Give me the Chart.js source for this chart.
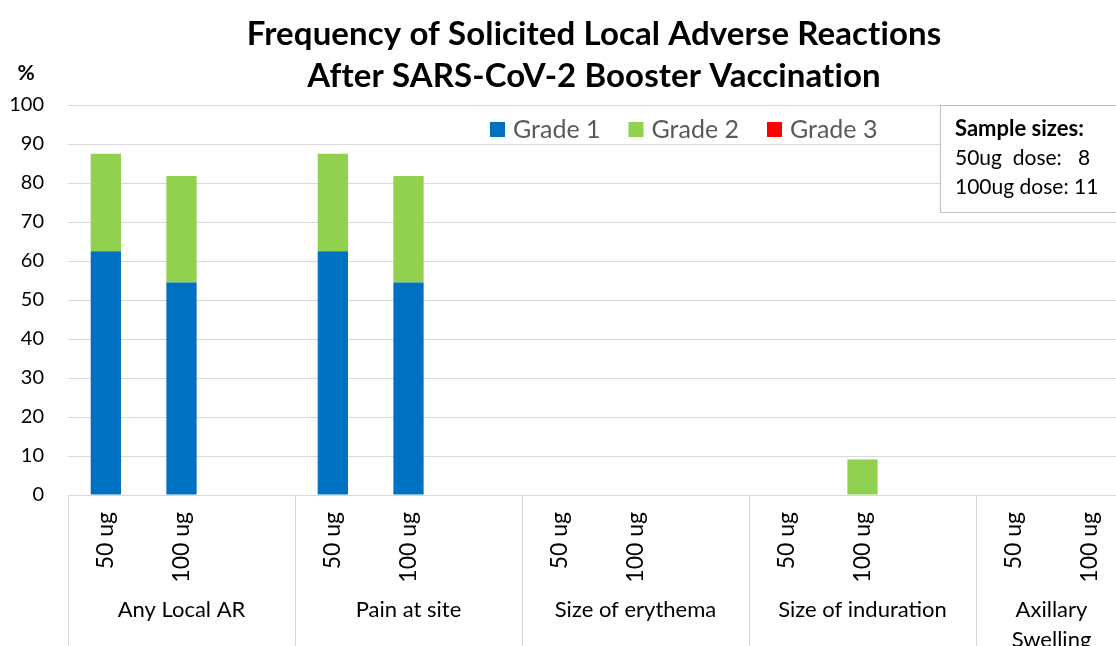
<!DOCTYPE html>
<html>
<head>
<meta charset="utf-8">
<script src="https://cdn.jsdelivr.net/npm/chart.js@4.4.1/dist/chart.umd.min.js"></script>
<style>
  html, body { margin: 0; padding: 0; background: #fff; overflow: hidden; }
  #wrap { width: 1116px; height: 646px; overflow: hidden; position: relative; }
  canvas { display: block; }
</style>
</head>
<body>
<div id="wrap"><canvas id="chart" width="1210" height="646"></canvas></div>
<script>
// Reactions (outer category level) and dose groups (inner level)
const reactions = ['Any Local AR', 'Pain at site', 'Size of erythema', 'Size of induration', 'Axillary Swelling'];
const doses = ['50 ug', '100 ug'];

// Percent of participants per reaction x dose (50 ug, 100 ug for each reaction)
const grade1 = [62.5, 54.5, 62.5, 54.5, 0, 0, 0, 0, 0, 0];
const grade2 = [25.0, 27.3, 25.0, 27.3, 0, 0, 0, 9.1, 0, 0];
const grade3 = [0, 0, 0, 0, 0, 0, 0, 0, 0, 0];

const seriesNames = ['Grade 1', 'Grade 2', 'Grade 3'];
const seriesColors = ['#0070C0', '#92D050', '#FF0000'];

const yTickValues = [0, 10, 20, 30, 40, 50, 60, 70, 80, 90, 100];

const titleLines = ['Frequency of Solicited Local Adverse Reactions', 'After SARS-CoV-2 Booster Vaccination'];
const sampleTitle = 'Sample sizes:';
const sampleLines = ['50ug  dose:   8', '100ug dose: 11'];

// Each reaction gets its dose slots followed by one empty spacer slot
const slotsPerGroup = doses.length + 1;
const slotLabels = [];
reactions.forEach(() => { doses.forEach(d => slotLabels.push(d)); slotLabels.push(''); });
function toSlots(values) {
  const out = [];
  reactions.forEach((r, i) => {
    doses.forEach((d, j) => out.push(values[i * doses.length + j]));
    out.push(null);
  });
  return out;
}

const FONT = 'Lato, "Open Sans", sans-serif';
const GRID = '#d9d9d9';

const decorations = {
  id: 'decorations',
  afterDraw(chart) {
    const ctx = chart.ctx;
    const xs = chart.scales.x;
    const area = chart.chartArea;
    const slotW = (xs.getPixelForValue(1) - xs.getPixelForValue(0));
    ctx.save();

    // Title (tiny letter spacing keeps "ti" from joining into a ligature)
    ctx.fillStyle = '#000';
    ctx.textAlign = 'center';
    ctx.textBaseline = 'middle';
    ctx.font = 'bold 33px ' + FONT;
    if ('letterSpacing' in ctx) ctx.letterSpacing = '0.1px';
    ctx.fillText(titleLines[0], 594, 34);
    ctx.fillText(titleLines[1], 594, 76);
    if ('letterSpacing' in ctx) ctx.letterSpacing = '0px';

    // Value-axis unit
    ctx.font = 'bold 21px ' + FONT;
    ctx.fillText('%', 26, 73);

    // Legend
    ctx.textAlign = 'left';
    ctx.font = '25px ' + FONT;
    let lx = 490;
    chart.data.datasets.forEach(ds => {
      ctx.fillStyle = ds.backgroundColor;
      ctx.fillRect(lx, 122, 15, 15);
      ctx.fillStyle = '#595959';
      ctx.fillText(ds.label, lx + 23, 130);
      lx += 23 + ctx.measureText(ds.label).width + 28;
    });

    // Sample-size box
    ctx.fillStyle = '#fff';
    ctx.fillRect(940, 105, 200, 107);
    ctx.strokeStyle = '#bfbfbf';
    ctx.lineWidth = 1;
    ctx.strokeRect(940.5, 105.5, 200, 107);
    ctx.fillStyle = '#000';
    ctx.font = 'bold 22px ' + FONT;
    ctx.fillText(sampleTitle, 955, 129);
    ctx.font = '21px ' + FONT;
    sampleLines.forEach((t, i) => ctx.fillText(t, 955, 158 + i * 29));

    // Outer category level: separators and reaction names
    ctx.strokeStyle = GRID;
    ctx.lineWidth = 1;
    for (let g = 0; g <= reactions.length; g++) {
      const x = Math.round(xs.getPixelForValue(g * slotsPerGroup) - slotW / 2) + 0.5;
      ctx.beginPath();
      ctx.moveTo(x, area.bottom);
      ctx.lineTo(x, chart.height);
      ctx.stroke();
    }
    ctx.fillStyle = '#000';
    ctx.textAlign = 'center';
    ctx.font = '22px ' + FONT;
    const visibleRight = 1127;
    reactions.forEach((name, g) => {
      const left = xs.getPixelForValue(g * slotsPerGroup) - slotW / 2;
      const right = Math.min(left + slotW * slotsPerGroup, visibleRight);
      const cx = (left + right) / 2;
      const width = right - left - 20;
      // wrap words onto lines that fit the group width
      const words = name.split(' ');
      const lines = [];
      let cur = '';
      words.forEach(w => {
        const test = cur ? cur + ' ' + w : w;
        if (cur && ctx.measureText(test).width > width) { lines.push(cur); cur = w; }
        else cur = test;
      });
      lines.push(cur);
      lines.forEach((ln, k) => ctx.fillText(ln, cx, 610 + k * 30));
    });
    ctx.restore();
  }
};

new Chart(document.getElementById('chart'), {
  type: 'bar',
  data: {
    labels: slotLabels,
    datasets: [grade1, grade2, grade3].map((vals, i) => ({
      label: seriesNames[i],
      data: toSlots(vals),
      backgroundColor: seriesColors[i],
      borderWidth: 0,
      categoryPercentage: 1,
      barPercentage: 0.4
    }))
  },
  options: {
    responsive: false,
    animation: false,
    devicePixelRatio: 1,
    layout: { padding: { top: 105, right: 7, left: 0, bottom: 0 } },
    plugins: { legend: { display: false }, title: { display: false }, tooltip: { enabled: false } },
    scales: {
      x: {
        stacked: true,
        grid: { display: false, drawTicks: false },
        border: { display: true, color: GRID },
        ticks: {
          autoSkip: false, minRotation: 90, maxRotation: 90, padding: 17,
          color: '#000', font: { family: FONT, size: 23 }
        },
        afterFit(s) { s.height = 151; }
      },
      y: {
        stacked: true,
        min: 0, max: 100,
        afterBuildTicks(s) { s.ticks = yTickValues.map(v => ({ value: v })); },
        grid: { color: GRID, lineWidth: 1, drawTicks: false },
        border: { display: false },
        ticks: { padding: 24, color: '#000', font: { family: FONT, size: 20 } },
        afterFit(s) { s.width = 68; }
      }
    }
  },
  plugins: [decorations]
});
</script>
</body>
</html>
